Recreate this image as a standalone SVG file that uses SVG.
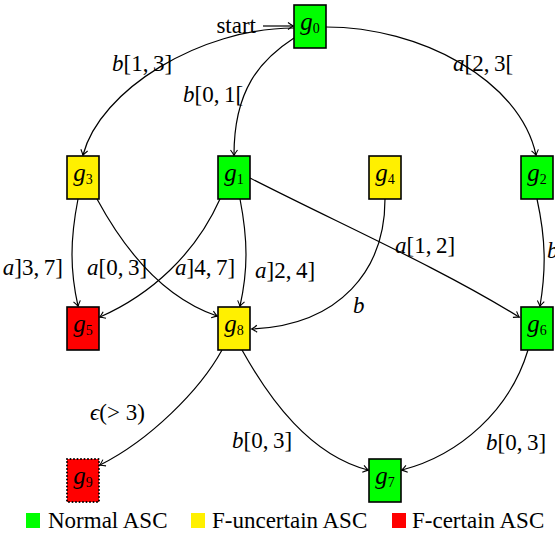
<svg xmlns="http://www.w3.org/2000/svg" width="555" height="536" viewBox="0 0 555 536">
<style>
text{font-family:"Liberation Serif","Times New Roman",serif;fill:#000}
.lbl{font-size:23px}
.it{font-style:italic}
.nl{font-size:25px;text-anchor:middle}
.sub{font-size:14px;font-style:normal}
.box{stroke:#000;stroke-width:1.6}
.green{fill:#00ff00}
.yellow{fill:#fff000}
.red{fill:#ff0000}
.edge{fill:none;stroke:#000;stroke-width:1.2;marker-end:url(#arr)}
.leg{font-size:23px}
</style>
<defs>
<marker id="arr" markerWidth="10" markerHeight="10" refX="0" refY="0" viewBox="-6 -5 8 10" orient="auto" markerUnits="userSpaceOnUse">
<path d="M-5,-3.5 Q-1.5,-0.8 0.5,0 Q-1.5,0.8 -5,3.5" fill="none" stroke="#000" stroke-width="1.1"/>
</marker>
</defs>
<g id="connectors">
<path class="edge" d="M263,26 L293,26"/>
<path class="edge" d="M294,28 C200,28 100,90 83,155"/>
<path class="edge" d="M294,38 C260,60 234,90 234,155"/>
<path class="edge" d="M326,27 C420,27 520,80 536,155"/>
<path class="edge" d="M78,199 C70,240 70,270 78,306"/>
<path class="edge" d="M97,199 C130,260 170,300 217,316"/>
<path class="edge" d="M220,199 C195,255 150,295 100,317"/>
<path class="edge" d="M240,199 C248,240 248,270 240,306"/>
<path class="edge" d="M250,178 C340,224 440,268 519,317"/>
<path class="edge" d="M385,199 C385,270 340,325 252,329"/>
<path class="edge" d="M537,199 C546,240 546,270 540,306"/>
<path class="edge" d="M222,350 C200,390 150,440 100,465"/>
<path class="edge" d="M242,350 C270,400 310,455 368,470"/>
<path class="edge" d="M528,350 C510,410 460,455 402,470"/>
</g>
<g id="edge-labels">
<text class="lbl" x="256" y="33" text-anchor="end">start</text>
<text class="lbl" x="112" y="71"><tspan class="it">b</tspan>[1,&#8201;3]</text>
<text class="lbl" x="183" y="102"><tspan class="it">b</tspan>[0,&#8201;1[</text>
<text class="lbl" x="453" y="71"><tspan class="it">a</tspan>[2,&#8201;3[</text>
<text class="lbl" x="63" y="275" text-anchor="end"><tspan class="it">a</tspan>]3,&#8201;7]</text>
<text class="lbl" x="87" y="275"><tspan class="it">a</tspan>[0,&#8201;3]</text>
<text class="lbl" x="175" y="275"><tspan class="it">a</tspan>]4,&#8201;7]</text>
<text class="lbl" x="255" y="278"><tspan class="it">a</tspan>]2,&#8201;4]</text>
<text class="lbl" x="395" y="253"><tspan class="it">a</tspan>[1,&#8201;2]</text>
<text class="lbl it" x="353" y="313">b</text>
<text class="lbl it" x="547" y="258">b</text>
<text class="lbl" x="90" y="420"><tspan class="it">ϵ</tspan>(&gt;&#8197;3)</text>
<text class="lbl" x="232" y="448"><tspan class="it">b</tspan>[0,&#8201;3]</text>
<text class="lbl" x="486" y="450"><tspan class="it">b</tspan>[0,&#8201;3]</text>
</g>
<g id="g0"><rect class="box green" x="294" y="5" width="32" height="43"/><text class="nl" x="310" y="30"><tspan class="it">g</tspan><tspan class="sub" dy="3">0</tspan></text></g>
<g id="g3"><rect class="box yellow" x="67" y="156" width="32" height="43"/><text class="nl" x="83" y="181"><tspan class="it">g</tspan><tspan class="sub" dy="3">3</tspan></text></g>
<g id="g1"><rect class="box green" x="218" y="156" width="32" height="43"/><text class="nl" x="234" y="181"><tspan class="it">g</tspan><tspan class="sub" dy="3">1</tspan></text></g>
<g id="g4"><rect class="box yellow" x="369" y="156" width="32" height="43"/><text class="nl" x="385" y="181"><tspan class="it">g</tspan><tspan class="sub" dy="3">4</tspan></text></g>
<g id="g2"><rect class="box green" x="521" y="156" width="32" height="43"/><text class="nl" x="537" y="181"><tspan class="it">g</tspan><tspan class="sub" dy="3">2</tspan></text></g>
<g id="g5"><rect class="box red" x="67" y="307" width="32" height="43"/><text class="nl" x="83" y="332"><tspan class="it">g</tspan><tspan class="sub" dy="3">5</tspan></text></g>
<g id="g8"><rect class="box yellow" x="218" y="307" width="32" height="43"/><text class="nl" x="234" y="332"><tspan class="it">g</tspan><tspan class="sub" dy="3">8</tspan></text></g>
<g id="g6"><rect class="box green" x="521" y="307" width="32" height="43"/><text class="nl" x="537" y="332"><tspan class="it">g</tspan><tspan class="sub" dy="3">6</tspan></text></g>
<g id="g9"><rect class="red" x="67" y="459" width="32" height="43" stroke="#000" stroke-width="2" stroke-dasharray="0 3.5" stroke-linecap="round"/><text class="nl" x="83" y="484"><tspan class="it">g</tspan><tspan class="sub" dy="3">9</tspan></text></g>
<g id="g7"><rect class="box green" x="369" y="459" width="32" height="43"/><text class="nl" x="385" y="484"><tspan class="it">g</tspan><tspan class="sub" dy="3">7</tspan></text></g>
<g id="legend">
<rect class="green" x="26" y="513" width="14" height="15"/>
<text class="leg" x="48" y="528">Normal ASC</text>
<rect class="yellow" x="191" y="513" width="14" height="15"/>
<text class="leg" x="212" y="528">F-uncertain ASC</text>
<rect class="red" x="392" y="513" width="14" height="15"/>
<text class="leg" x="412" y="528">F-certain ASC</text>
</g>
</svg>
